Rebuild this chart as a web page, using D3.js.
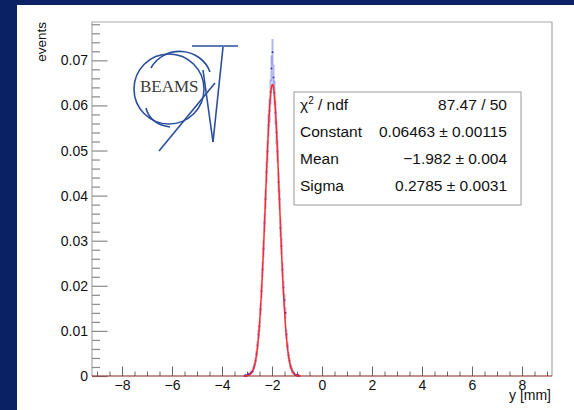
<!DOCTYPE html>
<html><head><meta charset="utf-8">
<script src="https://cdn.jsdelivr.net/npm/d3@7"></script>
<style>body{margin:0;background:#0a2264;} svg{display:block;}</style>
</head><body>
<script>
// ---- data ----
const binStart = -3.12;       // low edge of first listed bin
const binWidth = 0.04;
const binValues = [0, 0.0002, 0, 0.0002, 0.0004, 0.0004, 0.0006, 0.0009, 0.0010, 0.0017,
  0.0024, 0.0034, 0.0049, 0.0068, 0.0092, 0.0110, 0.0148, 0.0188, 0.0236, 0.0282,
  0.0340, 0.0392, 0.0452, 0.0498, 0.0556, 0.0588, 0.0630, 0.0682, 0.0718, 0.0662,
  0.0628, 0.0584, 0.0540, 0.0498, 0.0430, 0.0392, 0.0328, 0.0288, 0.0236, 0.0196,
  0.0168, 0.0140, 0.0092, 0.0066, 0.0046, 0.0034, 0.0022, 0.0016, 0.0010, 0.0007,
  0.0004, 0.0002, 0.0002, 0, 0.0002, 0];
const binErrors = [0, 0.00015, 0, 0.00015, 0.00022, 0.00022, 0.00027, 0.00033, 0.00035, 0.00045,
  0.00054, 0.00064, 0.00077, 0.0009, 0.00105, 0.00115, 0.00133, 0.0015, 0.00168, 0.00184,
  0.002, 0.00217, 0.00233, 0.00244, 0.00258, 0.00266, 0.00275, 0.00286, 0.00293, 0.00282,
  0.00275, 0.00265, 0.00255, 0.00244, 0.00227, 0.00217, 0.00198, 0.00186, 0.00168, 0.00153,
  0.00142, 0.0013, 0.00105, 0.00089, 0.00074, 0.00064, 0.00051, 0.00044, 0.00035, 0.00029,
  0.00022, 0.00015, 0.00015, 0, 0.00015, 0];
const fitParams = [0.06463, -1.982, 0.2785]; // Constant, Mean, Sigma
const statNames = ["χ² / ndf", "Constant", "Mean", "Sigma"];
const statValues = ["87.47 / 50", "0.06463 ± 0.00115", "\u22121.982 ± 0.004", "0.2785 ± 0.0031"];
const xMajorTicks = [-8, -6, -4, -2, 0, 2, 4, 6, 8];
const yMajorTicks = [0, 0.01, 0.02, 0.03, 0.04, 0.05, 0.06, 0.07];
const xTitle = "y [mm]";
const yTitle = "events";

// ---- drawing ----
const W = 574, H = 410;
const FONT = "'Liberation Sans', Arial, Helvetica, sans-serif";
const svg = d3.select("body").append("svg").attr("width", W).attr("height", H);
svg.append("rect").attr("width", W).attr("height", H).attr("fill", "#0a2264");
svg.append("rect").attr("x", 17).attr("y", 5).attr("width", W - 17).attr("height", H - 5).attr("fill", "#fff");

const L = 92, R = 552, T = 22, B = 376;
const x = d3.scaleLinear().domain([-9.2, 9.2]).range([L, R]);
const y = d3.scaleLinear().domain([0, 0.0785]).range([B, T]);

// frame
svg.append("path").attr("d", `M${L},${B}V${T}H${R}V${B}`).attr("fill", "none")
  .attr("stroke", "#a8a8a8").attr("stroke-width", 1.2);

// y axis minor
const yMinor = d3.range(0, 0.0781, 0.002).filter(v => !yMajorTicks.some(m => Math.abs(m - v) < 1e-6));
svg.append("g").attr("transform", `translate(${L},0)`)
  .call(d3.axisLeft(y).tickValues(yMinor).tickSize(-8).tickFormat(""))
  .call(g => g.select(".domain").remove())
  .call(g => g.selectAll("line").attr("stroke", "#8a8a8a").attr("stroke-width", 1.2));
svg.append("g").attr("transform", `translate(${L},0)`)
  .call(d3.axisLeft(y).tickValues(yMajorTicks).tickSize(-15.5).tickPadding(4)
    .tickFormat(d => d === 0 ? "0" : d3.format(".2f")(d)))
  .call(g => g.select(".domain").remove())
  .call(g => g.selectAll("line").attr("stroke", "#8a8a8a").attr("stroke-width", 1.2))
  .call(g => g.selectAll("text").attr("font-family", FONT).attr("font-size", 14).attr("fill", "#111"));

// x axis
const xMinor = d3.range(-9, 9.01, 0.5).filter(v => !xMajorTicks.includes(v));
svg.append("g").attr("transform", `translate(0,${B})`)
  .call(d3.axisBottom(x).tickValues(xMinor).tickSize(-4.5).tickFormat(""))
  .call(g => g.select(".domain").remove())
  .call(g => g.selectAll("line").attr("stroke", "#666").attr("stroke-width", 1));
svg.append("g").attr("transform", `translate(0,${B})`)
  .call(d3.axisBottom(x).tickValues(xMajorTicks).tickSize(-9.5).tickPadding(4)
    .tickFormat(d => d < 0 ? "\u2212" + Math.abs(d) : String(d)))
  .call(g => g.select(".domain").remove())
  .call(g => g.selectAll("line").attr("stroke", "#666").attr("stroke-width", 1))
  .call(g => g.selectAll("text").attr("font-family", FONT).attr("font-size", 14).attr("fill", "#111"));

// axis titles
svg.append("text").attr("transform", `translate(46,${T}) rotate(-90)`).attr("text-anchor", "end")
  .attr("font-family", FONT).attr("font-size", 13.5).attr("fill", "#111").text(yTitle);
svg.append("text").attr("x", 551).attr("y", 400).attr("text-anchor", "end")
  .attr("font-family", FONT).attr("font-size", 14).attr("fill", "#111").text(xTitle);

// logo (BEAMS)
const logo = svg.append("g").attr("fill", "none").attr("stroke", "#2b4e9c").attr("stroke-width", 1.6);
logo.append("circle").attr("cx", 169).attr("cy", 89).attr("r", 35);
logo.append("path").attr("d", "M151,68 A32,30 0 0,1 210,72");
logo.append("path").attr("d", "M146,108 Q150,124 170,127");
logo.append("path").attr("d", "M192,46 H238");
logo.append("path").attr("d", "M159,151 L215,83");
logo.append("path").attr("d", "M223,47 L213,142");
logo.append("path").attr("d", "M203,70 L213,142");
svg.append("text").attr("x", 140).attr("y", 92).attr("font-family", "'Liberation Serif', 'DejaVu Serif', serif")
  .attr("font-size", 17).attr("fill", "#3a3a3a").text("BEAMS");

// histogram
const bins = binValues.map((v, i) => ({c: binStart + binWidth * (i + 0.5), v, e: binErrors[i]}));
const hg = svg.append("g");
hg.selectAll("rect.err").data(bins.filter(d => d.e > 0)).join("rect").attr("class", "err")
  .attr("x", d => x(d.c) - 1).attr("width", 2)
  .attr("y", d => y(d.v + d.e)).attr("height", d => y(d.v - d.e) - y(d.v + d.e))
  .attr("fill", "rgba(100,112,220,0.5)");
hg.selectAll("rect.mk").data(bins).join("rect").attr("class", "mk")
  .attr("x", d => x(d.c) - 0.8).attr("width", 1.6)
  .attr("y", d => y(d.v) - 0.8).attr("height", 1.6).attr("fill", "#2626a8");

// x axis baseline
svg.append("line").attr("x1", L).attr("x2", R).attr("y1", B).attr("y2", B)
  .attr("stroke", "#8e1c1c").attr("stroke-width", 1.2);

// fit
const [C, M, S] = fitParams;
const gaus = t => C * Math.exp(-0.5 * ((t - M) / S) ** 2);
const xs = d3.range(M - 4 * S, M + 4 * S, 0.005);
svg.append("path").datum(xs).attr("fill", "none").attr("stroke", "#ff2a2a").attr("stroke-width", 1.5)
  .attr("d", d3.line().x(t => x(t)).y(t => y(gaus(t))));

// stats box
const sb = svg.append("g");
sb.append("rect").attr("x", 294).attr("y", 92).attr("width", 227).attr("height", 113)
  .attr("fill", "#fff").attr("stroke", "#9a9a9a").attr("stroke-width", 1);
statNames.forEach((n, i) => {
  const by = 109.5 + 27.3 * i;
  const t = sb.append("text").attr("x", 300).attr("y", by).attr("font-family", FONT)
    .attr("font-size", 15.5).attr("fill", "#111");
  if (i === 0) {
    t.append("tspan").text("χ");
    t.append("tspan").attr("font-size", 10).attr("dy", -6).text("2");
    t.append("tspan").attr("dy", 6).text(" / ndf");
  } else t.text(n);
  sb.append("text").attr("x", 507).attr("y", by).attr("text-anchor", "end").attr("font-family", FONT)
    .attr("font-size", 15.5).attr("fill", "#111").text(statValues[i]);
});
</script>
</body></html>
